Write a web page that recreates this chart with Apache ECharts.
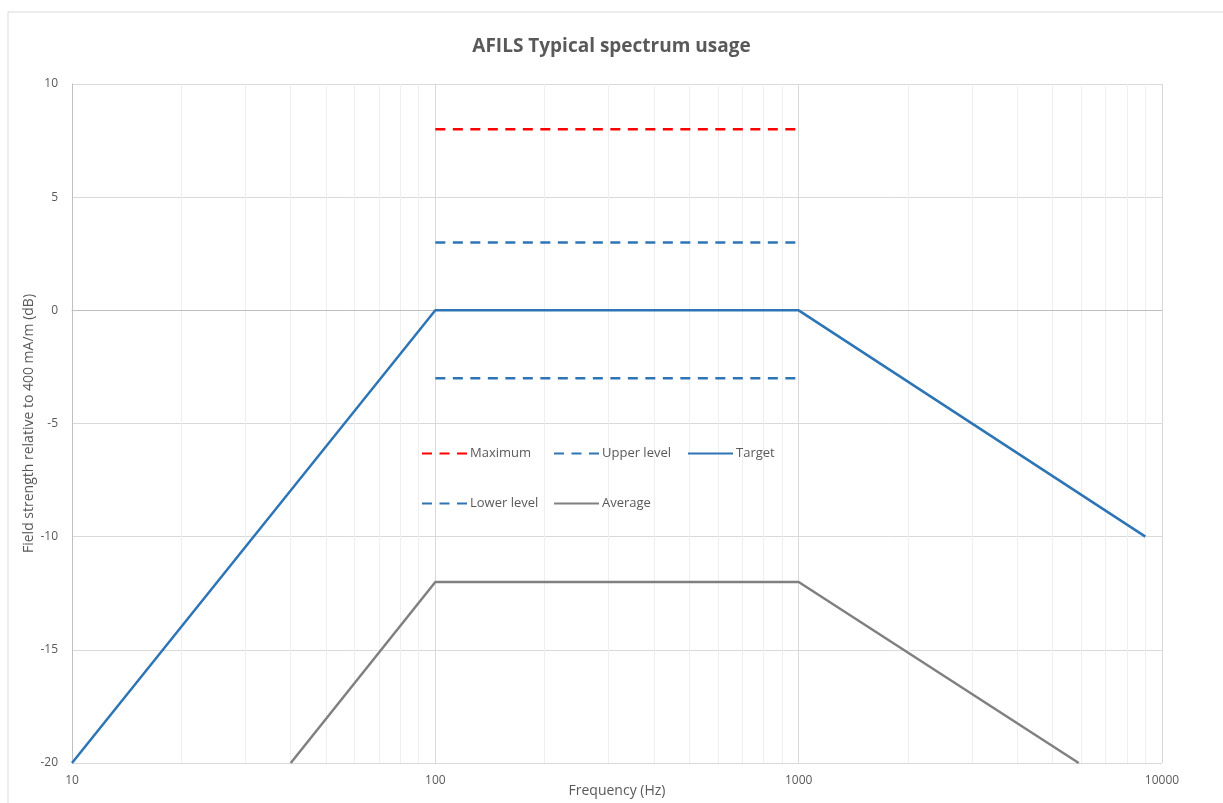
<!DOCTYPE html>
<html>
<head>
<meta charset="utf-8">
<script src="https://cdn.jsdelivr.net/npm/echarts@6/dist/echarts.min.js"></script>
<style>
  html, body { margin: 0; padding: 0; background: #fff; }
  #chart { width: 1223px; height: 803px; }
</style>
</head>
<body>
<div id="chart"></div>
<script>
const xTicks = [10, 100, 1000, 10000]
const minorFreqs = [20, 30, 40, 50, 60, 70, 80, 90, 200, 300, 400, 500, 600, 700, 800, 900, 2000, 3000, 4000, 5000, 6000, 7000, 8000, 9000]

const targetFreq = [10, 100, 1000, 9000]
const targetLevel = [-20, 0, 0, -10]
const averageFreq = [40, 100, 1000, 5900]
const averageLevel = [-20, -12, -12, -20]
const bandFreq = [100, 1000]
const maximumLevel = [8, 8]
const upperLevel = [3, 3]
const lowerLevel = [-3, -3]

const pairs = (xs, ys) => xs.map((x, i) => [x, ys[i]])

const textColor = '#595959'
const font = '"Open Sans", "Noto Sans", sans-serif'
const dash = [10, 7.5]

const chart = echarts.init(document.getElementById('chart'))

function legendAt(name, left, top) {
  return {
    data: [name],
    left, top,
    itemWidth: 45,
    itemHeight: 14,
    itemGap: 0,
    padding: 0,
    itemStyle: { color: 'transparent', borderColor: 'transparent', borderWidth: 0 },
    textStyle: { color: textColor, fontSize: 13, fontFamily: font, padding: [0, 0, 0, -2] }
  }
}

chart.setOption({
  animation: false,
  graphic: [{
    type: 'rect',
    shape: { x: 8, y: 12, width: 1230, height: 810 },
    style: { fill: 'none', stroke: '#d9d9d9', lineWidth: 1 },
    silent: true
  }],
  title: {
    text: 'AFILS Typical spectrum usage',
    left: 'center',
    top: 32,
    textStyle: { color: textColor, fontSize: 19, fontWeight: 'bold', fontFamily: font }
  },
  legend: [
    legendAt('Maximum', 421, 447),
    legendAt('Upper level', 553, 447),
    legendAt('Target', 687, 447),
    legendAt('Lower level', 421, 497),
    legendAt('Average', 553, 497)
  ],
  grid: { left: 72, right: 61, top: 84, bottom: 40, outerBoundsMode: 'none', containLabel: false },
  xAxis: {
    type: 'log',
    logBase: 10,
    min: 10,
    max: 10000,
    name: 'Frequency (Hz)',
    nameLocation: 'middle',
    nameGap: 21,
    nameMoveOverlap: false,
    nameTextStyle: { color: textColor, fontSize: 14, fontFamily: font },
    axisLine: { lineStyle: { color: '#bfbfbf' } },
    axisTick: { show: false },
    axisLabel: {
      color: textColor, fontSize: 12, fontFamily: font, margin: 12,
      formatter: (v) => (xTicks.includes(Math.round(v)) ? String(Math.round(v)) : '')
    },
    splitLine: { show: true, lineStyle: { color: '#d9d9d9' } }
  },
  yAxis: {
    type: 'value',
    min: -20,
    max: 10,
    interval: 5,
    name: 'Field strength relative to 400 mA/m (dB)',
    nameLocation: 'middle',
    nameGap: 36,
    nameMoveOverlap: false,
    nameTextStyle: { color: textColor, fontSize: 14, fontFamily: font },
    axisLine: { show: true, lineStyle: { color: '#bfbfbf' } },
    axisTick: { show: false },
    axisLabel: { color: textColor, fontSize: 12, fontFamily: font, margin: 14 },
    splitLine: { lineStyle: { color: '#d9d9d9' } }
  },
  series: [
    {
      name: 'minor grid',
      type: 'line',
      data: [],
      silent: true,
      z: 0,
      markLine: {
        silent: true,
        symbol: 'none',
        z: 0,
        label: { show: false },
        lineStyle: { color: '#efefef', type: 'solid', width: 1 },
        data: minorFreqs.map((f) => ({ xAxis: f }))
      }
    },
    {
      name: 'Maximum',
      type: 'line',
      data: pairs(bandFreq, maximumLevel),
      symbol: 'none',
      z: 3,
      lineStyle: { color: '#ff0000', width: 2.5, type: dash },
      itemStyle: { color: '#ff0000' }
    },
    {
      name: 'Upper level',
      type: 'line',
      data: pairs(bandFreq, upperLevel),
      symbol: 'none',
      z: 3,
      lineStyle: { color: '#2e75b6', width: 2.5, type: dash },
      itemStyle: { color: '#2e75b6' }
    },
    {
      name: 'Target',
      type: 'line',
      data: pairs(targetFreq, targetLevel),
      symbol: 'none',
      z: 3,
      lineStyle: { color: '#2e75b6', width: 2.5 },
      itemStyle: { color: '#2e75b6' }
    },
    {
      name: 'Lower level',
      type: 'line',
      data: pairs(bandFreq, lowerLevel),
      symbol: 'none',
      z: 3,
      lineStyle: { color: '#2e75b6', width: 2.5, type: dash },
      itemStyle: { color: '#2e75b6' }
    },
    {
      name: 'Average',
      type: 'line',
      data: pairs(averageFreq, averageLevel),
      symbol: 'none',
      z: 3,
      lineStyle: { color: '#808080', width: 2.5 },
      itemStyle: { color: '#808080' }
    }
  ]
})

window.addEventListener('resize', () => chart.resize())
</script>
</body>
</html>
